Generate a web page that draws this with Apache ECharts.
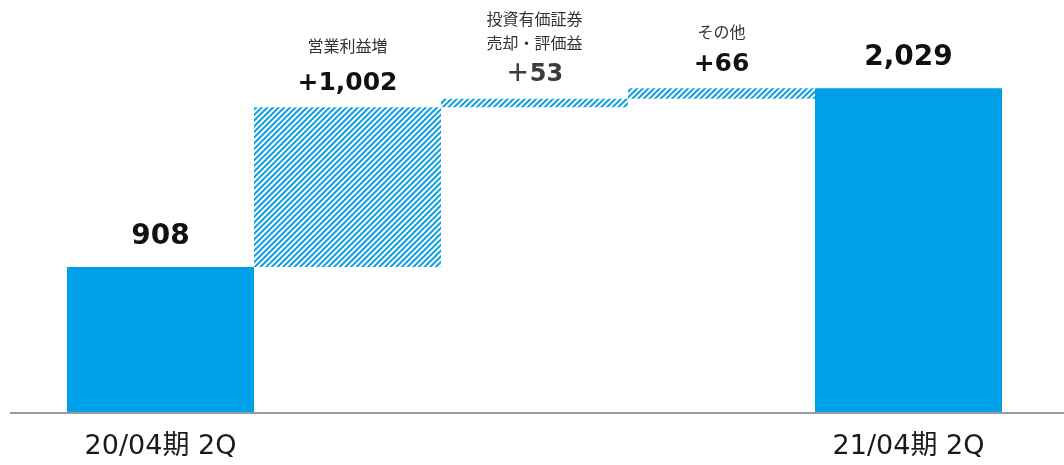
<!DOCTYPE html>
<html>
<head>
<meta charset="utf-8">
<script src="https://cdn.jsdelivr.net/npm/echarts@6/dist/echarts.min.js"></script>
<style>
html,body{margin:0;padding:0;background:#fff;}
#chart{width:1064px;height:465px;}
</style>
</head>
<body>
<div id="chart"></div>
<script>
const categories = ['20/04期 2Q', '営業利益増', '投資有価証券\n売却・評価益', 'その他', '21/04期 2Q'];
const values = [908, 1002, 53, 66, 2029];
const kinds = ['total', 'delta', 'delta', 'delta', 'total'];
const valueLabels = ['908', '+1,002', '＋53', '+66', '2,029'];

const BLUE = '#00A0E9';
const NUM_FONT = '"DejaVu Sans", Verdana, sans-serif';
const JP_FONT = '"Noto Sans CJK JP", "Noto Sans", sans-serif';

const bases = [];
let run = 0;
values.forEach((v, i) => {
  if (kinds[i] === 'total') { bases.push(0); run = v; }
  else { bases.push(run); run += v; }
});

const barData = values.map((v, i) => {
  const isTotal = kinds[i] === 'total';
  return {
    value: v,
    itemStyle: isTotal
      ? { color: BLUE }
      : {
          color: '#ffffff',
          decal: {
            symbol: 'rect',
            symbolSize: 1,
            color: '#0b9fe2',
            backgroundColor: '#ffffff',
            dashArrayX: [1, 0],
            dashArrayY: [2, 2],
            rotation: -Math.PI / 4
          }
        }
  };
});

const chart = echarts.init(document.getElementById('chart'), null, { renderer: 'canvas' });

const option = {
  animation: false,
  backgroundColor: '#ffffff',
  grid: { left: 67, right: 62, top: 13, bottom: 53, containLabel: false },
  xAxis: {
    type: 'category',
    data: categories,
    axisLine: { show: false },
    axisTick: { show: false },
    axisLabel: {
      interval: 0,
      margin: 21,
      fontFamily: NUM_FONT + ', ' + JP_FONT,
      fontSize: 27,
      lineHeight: 28,
      color: '#1a1a1a',
      formatter: (v, i) => (kinds[i] === 'total' ? v : '')
    }
  },
  yAxis: { type: 'value', min: 0, max: 2500, show: false, splitLine: { show: false } },
  series: [
    {
      name: 'base', type: 'bar', stack: 'w', barWidth: '100%', barGap: '0%', silent: true,
      itemStyle: { color: 'transparent' }, data: bases
    },
    {
      name: 'value', type: 'bar', stack: 'w', barWidth: '100%', data: barData,
      label: {
        show: true, position: 'top', distance: 11, align: 'center',
        formatter: (p) => {
          const i = p.dataIndex;
          const val = valueLabels[i];
          if (kinds[i] === 'total') return '{t|' + val + '}';
          const key = val.charAt(0) === '＋' ? 'g' : 'v';
          const lines = categories[i].split('\n');
          const nameLines = lines.map(s => '{n|' + s + '}').join('\n');
          const gap = lines.length === 1 && i === 1 ? 'S' : 's';
          return nameLines + '\n{' + gap + '| }\n{' + key + '|' + val + '}';
        },
        rich: {
          n: { fontFamily: JP_FONT, fontSize: 16, lineHeight: 24, color: '#333333', align: 'center' },
          s: { fontSize: 1, lineHeight: 7 },
          S: { fontSize: 1, lineHeight: 12 },
          v: { fontFamily: NUM_FONT, fontWeight: 'bold', fontSize: 25, lineHeight: 26, color: '#111111', align: 'center' },
          g: { fontFamily: NUM_FONT + ', ' + JP_FONT, fontWeight: 'bold', fontSize: 24, lineHeight: 26, color: '#3c3c3c', align: 'center' },
          t: { fontFamily: NUM_FONT, fontWeight: 'bold', fontSize: 28, lineHeight: 38, color: '#111111', align: 'center' }
        }
      }
    }
  ]
};

chart.setOption(option);
const y0 = chart.convertToPixel({ yAxisIndex: 0 }, 0);
chart.setOption({
  graphic: [{
    type: 'line', z: 10,
    shape: { x1: 10, y1: y0 + 1, x2: 1064, y2: y0 + 1 },
    style: { stroke: '#9a9a9a', lineWidth: 2 }
  }]
});
</script>
</body>
</html>
